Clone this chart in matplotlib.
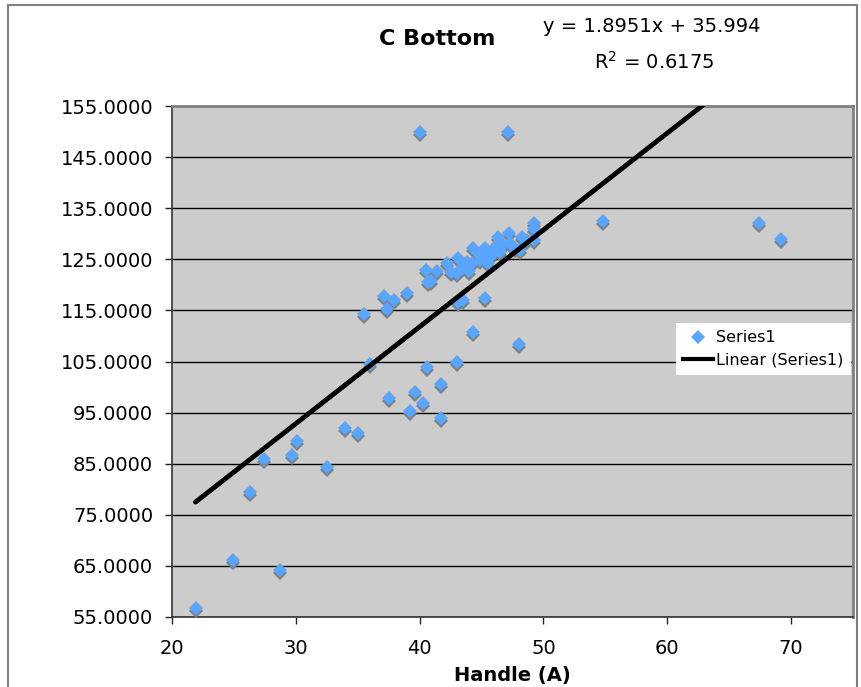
import matplotlib
matplotlib.use("Agg")
import matplotlib.pyplot as plt
import matplotlib.transforms as mtransforms
from matplotlib.lines import Line2D
import numpy as np

plt.rcParams['font.family'] = ['DejaVu Sans']

# ---- data ----
handle_a = [21.9, 24.9, 28.7, 26.3, 27.4, 29.7, 30.1, 32.5, 34.0, 35.0,
            36.0, 40.6, 43.0, 44.3, 48.0, 37.5, 39.6, 41.7, 40.3, 39.2,
            41.7, 35.5, 37.1, 37.4, 37.9, 39.0, 40.5, 41.4, 40.7, 40.9,
            42.2, 42.5, 43.1, 43.0, 43.5, 43.5, 43.1, 44.3, 44.2, 44.9,
            45.3, 45.7, 45.5, 46.1, 46.3, 46.5, 46.7, 47.2, 47.3, 47.7,
            48.1, 48.3, 48.7, 49.2, 49.2, 49.2, 45.3, 40.0, 47.1, 54.8,
            67.4, 69.2, 44.9, 45.9, 43.8, 44.0]
c_bottom = [56.8, 66.2, 64.2, 79.5, 85.9, 86.7, 89.4, 84.4, 92.0, 91.0,
            104.5, 103.9, 104.9, 110.8, 108.4, 97.9, 99.0, 100.6, 96.9, 95.3,
            93.9, 114.3, 117.8, 115.3, 117.0, 118.4, 122.9, 122.7, 120.6, 120.8,
            124.3, 122.5, 125.3, 122.3, 123.5, 117.1, 116.7, 127.2, 124.3, 124.9,
            127.2, 125.5, 124.3, 127.4, 129.4, 126.5, 127.8, 130.1, 128.2, 127.2,
            126.8, 129.4, 128.8, 128.8, 132.1, 131.0, 117.4, 149.9, 149.9, 132.5,
            132.1, 129.0, 125.8, 126.3, 124.5, 122.8]
trend_slope = 1.8951
trend_intercept = 35.994
r_squared = 0.6175

x_ticks = [20, 30, 40, 50, 60, 70]
y_ticks = [55, 65, 75, 85, 95, 105, 115, 125, 135, 145, 155]

title_text = "C Bottom"
x_label = "Handle (A)"
series_name = "Series1"
trend_name = "Linear (Series1)"

# ---- figure ----
W, H = 861, 687
fig = plt.figure(figsize=(W / 100, H / 100), dpi=100)
fig.patch.set_facecolor('white')

left, right, top, bottom = 172, 853, 106, 617
ax = fig.add_axes([left / W, 1 - bottom / H, (right - left) / W, (bottom - top) / H])
ax.set_facecolor('#cccccc')
ax.set_xlim(20, 75)
ax.set_ylim(55, 155)
ax.set_xticks(x_ticks)
ax.set_yticks(y_ticks)
ax.set_yticklabels([f"{v:.4f}" for v in y_ticks])
ax.tick_params(direction='out', length=5, width=1, colors='#222222',
               labelsize=14, labelcolor='black')
ax.tick_params(axis='y', pad=8.5)
ax.tick_params(axis='x', pad=11)
ax.grid(axis='y', color='black', linewidth=1.0)
ax.set_axisbelow(True)
for s in ['top', 'right']:
    ax.spines[s].set_color('#808080')
    ax.spines[s].set_linewidth(2)
for s in ['left', 'bottom']:
    ax.spines[s].set_color('#333333')
    ax.spines[s].set_linewidth(1.2)

blue = '#5aa5ff'
shadow = mtransforms.offset_copy(ax.transData, fig=fig, x=0, y=-3, units='dots')
ax.plot(handle_a, c_bottom, linestyle='none', marker='D', markersize=7,
        color='#808080', markeredgewidth=0, transform=shadow, zorder=3)
ax.plot(handle_a, c_bottom, linestyle='none', marker='D', markersize=7,
        color=blue, markeredgewidth=0, zorder=4)

xs = np.array([min(handle_a), max(handle_a)])
ax.plot(xs, trend_slope * xs + trend_intercept, color='black', linewidth=3.5,
        solid_capstyle='round', zorder=5)

fig.text(512 / W, 1 - 675 / H, x_label, fontsize=14, fontweight='bold',
         ha='center', va='center')

fig.text(437 / W, 1 - 39 / H, title_text, fontsize=16, fontweight='bold',
         ha='center', va='center')
fig.text(652 / W, 1 - 27 / H, f"y = {trend_slope:.4f}x + {trend_intercept:.3f}",
         fontsize=14, ha='center', va='center')
fig.text(654 / W, 1 - 62 / H, f"R$^2$ = {r_squared:.4f}",
         fontsize=14, ha='center', va='center')

handles = [Line2D([], [], linestyle='none', marker='D', markersize=7, color=blue,
                  markeredgewidth=0),
           Line2D([], [], color='black', linewidth=3)]
leg = fig.legend(handles, [series_name, trend_name], loc='upper right',
                 bbox_to_anchor=(851 / W, 1 - 323 / H), fontsize=11.5,
                 frameon=True, fancybox=False, borderpad=0.45,
                 handlelength=1.9, handletextpad=0.2, labelspacing=0.45,
                 borderaxespad=0)
leg.get_frame().set_facecolor('white')
leg.get_frame().set_edgecolor('white')
leg.get_frame().set_alpha(1)
leg.get_frame().set_linewidth(0)

# chart-area frame
fx0, fx1, fy0 = 8 / W, 857 / W, 1 - 5 / H
for xd, yd in [([fx0, fx0], [0, fy0]), ([fx0, fx1], [fy0, fy0]), ([fx1, fx1], [fy0, 0])]:
    fig.add_artist(Line2D(xd, yd, transform=fig.transFigure, color='#808080', linewidth=1.5))

fig.savefig('out.png', dpi=100)
